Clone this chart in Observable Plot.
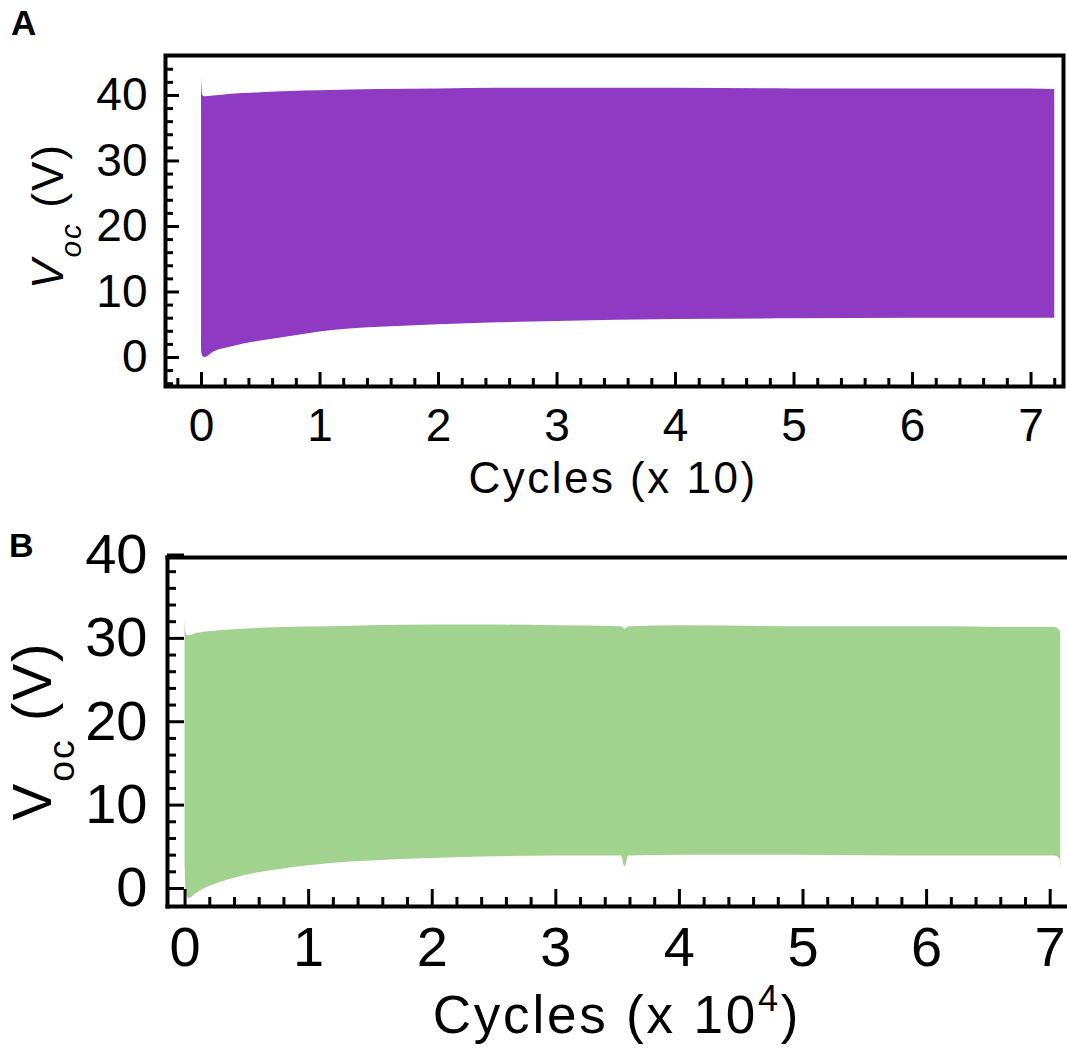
<!DOCTYPE html>
<html>
<head>
<meta charset="utf-8">
<script src="https://cdn.jsdelivr.net/npm/d3@7"></script>
<script src="https://cdn.jsdelivr.net/npm/@observablehq/plot@0.6"></script>
<style>
  html, body { margin: 0; padding: 0; background: #fff; }
  #wrap { position: relative; width: 1067px; height: 1052px; overflow: hidden; font-family: "Liberation Sans", Arial, sans-serif; }
  .panel { position: absolute; left: 0; }
  .letter { position: absolute; font-weight: bold; color: #000; line-height: 1; }
  svg text { font-family: "Liberation Sans", Arial, sans-serif; }
</style>
</head>
<body>
<div id="wrap">
  <div class="panel" id="pa" style="top:0"></div>
  <div class="panel" id="pb" style="top:530px"></div>
  <div class="letter" style="left:11px;top:5px;font-size:35px">A</div>
  <div class="letter" style="left:9px;top:528px;font-size:34px">B</div>
</div>
<script>
// ---- Panel A data (cycles x 10, Voc in V): envelope of the oscillating signal ----
const cyclesA = [0, 0.01, 0.03, 0.1, 0.25, 0.5, 0.75, 1.0, 1.5, 2.0, 2.5, 3.0, 4.0, 5.0, 6.0, 7.0, 7.2];
const upperA  = [42.6, 40.0, 39.8, 39.9, 40.2, 40.4, 40.6, 40.7, 40.9, 41.0, 41.1, 41.1, 41.1, 41.0, 41.0, 41.0, 40.9];
const lowerA  = [1.0, 0.2, 0.0, 0.8, 1.6, 2.5, 3.2, 3.9, 4.6, 5.0, 5.3, 5.5, 5.8, 5.9, 6.0, 6.0, 6.0];

// ---- Panel B data (cycles x 10^4) ----
const cyclesB = [0, 0.01, 0.03, 0.1, 0.37, 0.78, 1.18, 1.5, 2.0, 2.5, 3.0, 3.53, 3.56, 3.59, 4.0, 5.0, 6.0, 6.8, 7.04, 7.08, 7.085];
const upperB  = [32.3, 30.5, 30.3, 30.6, 31.0, 31.3, 31.4, 31.5, 31.6, 31.6, 31.5, 31.4, 31.1, 31.4, 31.5, 31.4, 31.4, 31.3, 31.3, 30.9, 30.5];
const lowerB  = [3.0, -0.5, -1.2, -0.5, 1.1, 2.3, 3.0, 3.3, 3.6, 3.8, 3.9, 3.9, 2.6, 3.9, 4.0, 4.0, 3.9, 3.9, 3.9, 3.5, 2.4];

// ---- ticks ----
const xMajorA = [0, 1, 2, 3, 4, 5, 6, 7];
const xMinorA = d3.range(-0.2, 7.21, 0.2).map(v => +v.toFixed(1)).filter(v => !xMajorA.includes(v));
const yMajorA = [0, 10, 20, 30, 40];
const yMinorA = d3.range(-4, 45, 2).filter(v => !yMajorA.includes(v));

const xMajorB = [0, 1, 2, 3, 4, 5, 6, 7];
const xMinorB = d3.range(0.2, 7.01, 0.2).map(v => +v.toFixed(1)).filter(v => !xMajorB.includes(v));
const yMajorB = [0, 10, 20, 30, 40];
const yMinorB = d3.range(2, 39, 2).filter(v => !yMajorB.includes(v));

const colorA = "#8e3ac2";
const colorB = "#a1d38e";

const tableA = cyclesA.map((x, i) => ({x, lo: lowerA[i], hi: upperA[i]}));
const tableB = cyclesB.map((x, i) => ({x, lo: lowerB[i], hi: upperB[i]}));

function axes(xMaj, xMin, yMaj, yMin, fs, majLen, minLen, padX, padY) {
  return [
    Plot.axisX(xMaj, {anchor: "bottom", tickSize: -majLen, strokeWidth: 3, fill: "none", label: null}),
    Plot.axisX(xMin, {anchor: "bottom", tickSize: -minLen, strokeWidth: 3, fill: "none", label: null}),
    Plot.axisY(yMaj, {anchor: "left", tickSize: -majLen, strokeWidth: 3, fill: "none", label: null}),
    Plot.axisY(yMin, {anchor: "left", tickSize: -minLen, strokeWidth: 3, fill: "none", label: null}),
    Plot.axisX(xMaj, {anchor: "bottom", tickSize: 0, tickPadding: padX, tickFormat: "d", fontSize: fs, fill: "#000", label: null}),
    Plot.axisY(yMaj, {anchor: "left", tickSize: 0, tickPadding: padY, tickFormat: "d", fontSize: fs, fill: "#000", label: null})
  ];
}

const chartA = Plot.plot({
  width: 1067, height: 530,
  marginTop: 55, marginBottom: 144, marginLeft: 165, marginRight: 4,
  style: {fontFamily: "Liberation Sans, Arial, sans-serif", color: "#000", background: "transparent", overflow: "visible"},
  x: {domain: [-0.304, 7.274], label: null},
  y: {domain: [-4.43, 46.1], label: null},
  marks: [
    Plot.areaY(tableA, {x: "x", y1: "lo", y2: "hi", fill: colorA, curve: "monotone-x"}),
    Plot.frame({stroke: "#000", strokeWidth: 4}),
    ...axes(xMajorA, xMinorA, yMajorA, yMinorA, 46, 14, 8, 22, 18)
  ]
});
document.getElementById("pa").appendChild(chartA);

const chartB = Plot.plot({
  width: 1067, height: 522,
  marginTop: 27, marginBottom: 146, marginLeft: 167, marginRight: 0,
  style: {fontFamily: "Liberation Sans, Arial, sans-serif", color: "#000", background: "transparent", overflow: "visible"},
  x: {domain: [-0.142, 7.14], label: null},
  y: {domain: [-2.16, 39.7], label: null},
  marks: [
    Plot.areaY(tableB, {x: "x", y1: "lo", y2: "hi", fill: colorB, curve: "monotone-x"}),
    Plot.frame({anchor: "top", stroke: "#000", strokeWidth: 4}),
    Plot.frame({anchor: "left", stroke: "#000", strokeWidth: 4}),
    Plot.frame({anchor: "bottom", stroke: "#000", strokeWidth: 4}),
    ...axes(xMajorB, xMinorB, yMajorB, yMinorB, 56, 17, 9, 20, 20)
  ]
});
document.getElementById("pb").appendChild(chartB);

// ---- axis titles ----
function xTitle(svg, x, y, fs, ls, sup) {
  const t = d3.select(svg).append("text")
    .attr("x", x).attr("y", y).attr("text-anchor", "middle")
    .attr("font-size", fs).attr("letter-spacing", ls).attr("fill", "#000");
  t.append("tspan").text("Cycles (x 10");
  if (sup) {
    t.append("tspan").attr("dy", -fs * 0.42).attr("font-size", fs * 0.68).text(sup);
    t.append("tspan").attr("dy", fs * 0.42).text(")");
  } else {
    t.append("tspan").text(")");
  }
}
function yTitle(svg, x, y, fs, ls, italic) {
  const t = d3.select(svg).append("text")
    .attr("transform", `translate(${x},${y}) rotate(-90)`)
    .attr("text-anchor", "middle")
    .attr("font-size", fs).attr("letter-spacing", ls).attr("fill", "#000");
  t.append("tspan").attr("font-style", italic ? "italic" : null).text("V");
  t.append("tspan").attr("dy", fs * 0.42).attr("font-size", fs * 0.68).attr("font-style", italic ? "italic" : null).text("oc");
  t.append("tspan").attr("dy", -fs * 0.42).text("\u00a0(V)");
}
xTitle(chartA, 613, 493, 44, 2.5, null);
yTitle(chartA, 63, 216, 44, 2, true);
xTitle(chartB, 617, 503, 53, 2.8, "4");
yTitle(chartB, 51, 201, 55, 2, false);
</script>
</body>
</html>
